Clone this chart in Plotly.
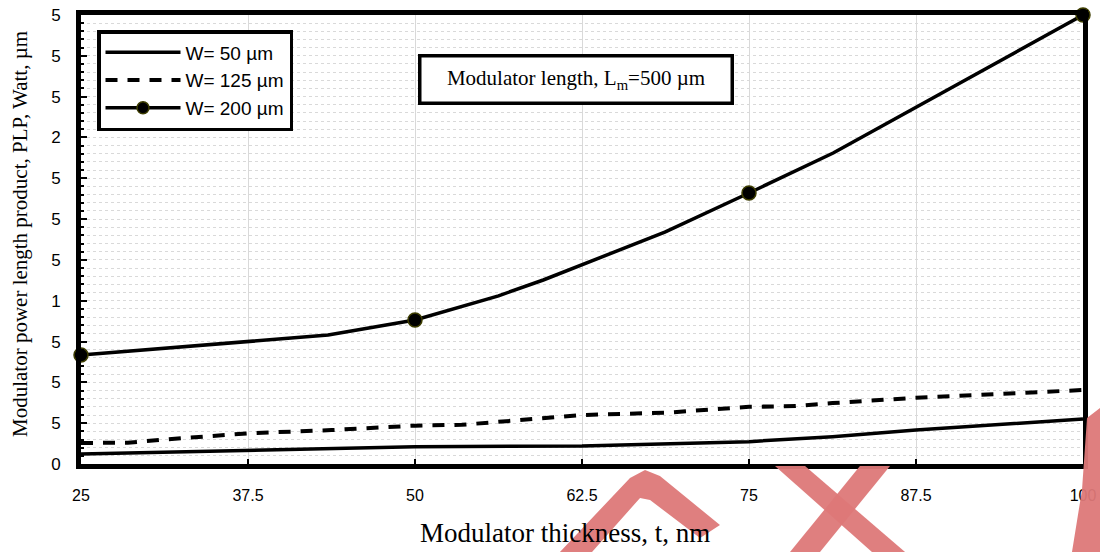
import plotly.graph_objects as go

# ---- data ----
t_w50 = [25, 37.5, 50, 62.5, 75, 81.25, 87.5, 100]
plp_w50 = [0.061, 0.086, 0.106, 0.11, 0.137, 0.167, 0.208, 0.276]

t_w125 = [25, 28.5, 31.25, 37.5, 43.75, 50, 53.5, 56.25, 62.5, 68.75, 72, 75, 78.5, 81.25, 87.5, 93.75, 96.5, 100]
plp_w125 = [0.129, 0.13, 0.15, 0.188, 0.208, 0.235, 0.24, 0.259, 0.30, 0.314, 0.33, 0.35, 0.355, 0.373, 0.406, 0.429, 0.44, 0.453]

t_w200 = [25, 43.5, 50, 56.25, 59.6, 68.7, 75, 81.3, 100]
plp_w200 = [0.667, 0.79, 0.882, 1.03, 1.127, 1.42, 1.66, 1.905, 2.75]

t_mark = [25, 50, 75, 100]
plp_mark = [0.667, 0.882, 1.66, 2.75]

x_ticks = [25, 37.5, 50, 62.5, 75, 87.5, 100]
x_ticktext = ["25", "37.5", "50", "62.5", "75", "87.5", "100"]
y_ticks = [0, 0.25, 0.5, 0.75, 1, 1.25, 1.5, 1.75, 2, 2.25, 2.5, 2.75]
y_ticktext = ["0", "5", "5", "5", "1", "5", "5", "5", "2", "5", "5", "5"]

x_title = "Modulator thickness, t, nm"
y_title = "Modulator power length product, PLP, Watt, µm"

# ---- layout geometry (pixels) ----
W, H = 1100, 552
L, R, T, B = 81, 1083, 15, 464

def px(x, y):
    return (x - L) / (R - L), (B - y) / (B - T)

def path(points):
    s = ""
    for i, (a, b) in enumerate(points):
        xx, yy = px(a, b)
        s += ("M" if i == 0 else "L") + f"{xx:.4f},{yy:.4f} "
    return s + "Z"

fig = go.Figure()

fig.add_trace(go.Scatter(x=t_w50, y=plp_w50, mode="lines", name="W= 50 µm",
                         line=dict(color="black", width=3.5), showlegend=True))
fig.add_trace(go.Scatter(x=t_w125, y=plp_w125, mode="lines", name="W= 125 µm",
                         line=dict(color="black", width=4, dash="12px,10px")))
fig.add_trace(go.Scatter(x=t_w200, y=plp_w200, mode="lines", name="W= 200 µm",
                         line=dict(color="black", width=3.5), showlegend=False))
fig.add_trace(go.Scatter(x=t_mark, y=plp_mark, mode="markers", showlegend=False,
                         marker=dict(color="black", size=14, line=dict(color="#3d3d00", width=1.5)),
                         cliponaxis=False))
fig.add_trace(go.Scatter(x=[None], y=[None], mode="lines+markers", name="W= 200 µm",
                         line=dict(color="black", width=3.5),
                         marker=dict(color="black", size=12, line=dict(color="#3d3d00", width=1.5))))

grid = "#d9d9d9"
fig.update_xaxes(range=[25, 100], tickvals=x_ticks, ticktext=x_ticktext, automargin=False,
                 showline=True, linewidth=5, linecolor="black", mirror=True,
                 ticks="inside", ticklen=5, tickcolor="black", tickwidth=1.5,
                 showgrid=True, gridcolor=grid, gridwidth=1,
                 tickfont=dict(family="Liberation Sans", size=16, color="black"),
                 ticklabelstandoff=13, zeroline=False)
fig.update_yaxes(range=[0, 2.75], tickvals=y_ticks, ticktext=y_ticktext, automargin=False,
                 showline=True, linewidth=5, linecolor="black", mirror=True,
                 ticks="inside", ticklen=6, tickcolor="black", tickwidth=1.5,
                 showgrid=True, gridcolor=grid, gridwidth=1, griddash="dot",
                 minor=dict(dtick=0.05, showgrid=True, gridcolor=grid, griddash="dot",
                            ticks="inside", ticklen=3, tickcolor="black"),
                 tickfont=dict(family="Liberation Sans", size=17, color="black"),
                 ticklabelstandoff=12, zeroline=False)

# axis titles
fig.add_annotation(xref="paper", yref="paper", x=px(565, 0)[0], y=px(0, 533)[1],
                   xanchor="center", yanchor="middle", showarrow=False, text=x_title,
                   font=dict(family="Liberation Serif", size=27, color="black"))
fig.add_annotation(xref="paper", yref="paper", x=px(20, 0)[0], y=px(0, 234)[1],
                   xanchor="center", yanchor="middle", showarrow=False, text=y_title,
                   textangle=-90,
                   font=dict(family="Liberation Serif", size=21, color="black"))

fig.add_annotation(xref="paper", yref="paper", x=px(575.5, 0)[0], y=px(0, 79)[1],
                   xanchor="center", yanchor="middle",
                   text="Modulator length, L<sub>m</sub>=500 µm", showarrow=False,
                   font=dict(family="Liberation Serif", size=21, color="black"),
                   bordercolor="black", borderwidth=3.5, bgcolor="white",
                   width=305, height=40, borderpad=2)

# red watermark fragments
wm = "rgba(221,120,120,0.95)"
shapes = [
    [(560, 552), (630, 478), (645, 470), (660, 476), (720, 525), (700, 538), (650, 500), (640, 498), (592, 552)],
    [(775, 466), (805, 466), (905, 552), (872, 552)],
    [(860, 466), (890, 466), (820, 552), (790, 552)],
    [(1087, 418), (1100, 408), (1100, 552), (1072, 552), (1082, 490)],
]
for pts in shapes:
    fig.add_shape(type="path", path=path(pts), xref="paper", yref="paper",
                  fillcolor=wm, line=dict(width=0), layer="above")

fig.update_layout(
    width=W, height=H,
    margin=dict(l=L, r=W - R, t=T, b=H - B, autoexpand=False),
    plot_bgcolor="white", paper_bgcolor="white",
    legend=dict(x=px(97, 0)[0], y=px(0, 30)[1], xanchor="left", yanchor="top",
                bgcolor="white", bordercolor="black", borderwidth=3.5,
                font=dict(family="Liberation Sans", size=19, color="black"),
                tracegroupgap=0, itemwidth=75),
    showlegend=True,
)

fig.write_html("out.html")
